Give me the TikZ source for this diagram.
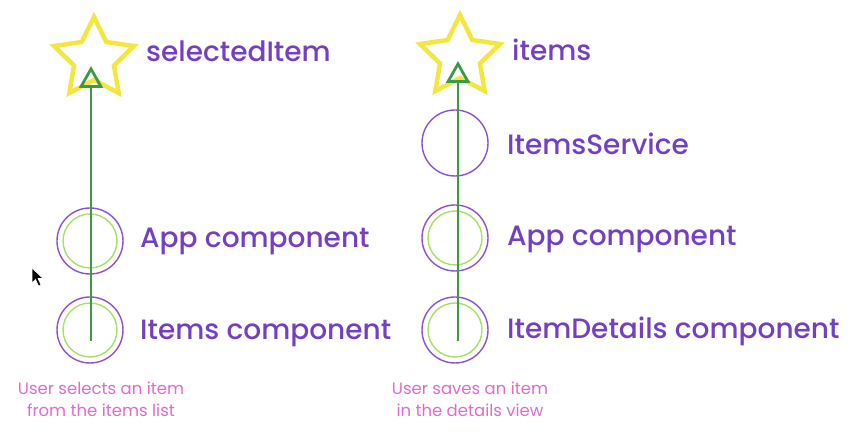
\documentclass[tikz,border=0pt]{standalone}
\usepackage{fontspec}
\setmainfont{Poppins}
\usetikzlibrary{arrows.meta,calc}
\definecolor{txtpurple}{HTML}{7440C2}
\definecolor{ringpurple}{HTML}{8C52D6}
\definecolor{ringgreen}{HTML}{A6E066}
\definecolor{arrgreen}{HTML}{3C9A45}
\definecolor{staryellow}{HTML}{F4E640}
\definecolor{capink}{HTML}{E06ACF}
\tikzset{
  x=1pt,y=1pt,
  starline/.style={draw=staryellow, line width=4.5pt, line join=miter},
  ringouter/.style={circle, draw=ringpurple, line width=1.4pt, minimum size=66pt, inner sep=0pt},
  ringinner/.style={circle, draw=ringgreen, line width=1.4pt, minimum size=54pt, inner sep=0pt},
  lbl/.style={anchor=west, text=txtpurple, font=\fontsize{28}{32}\selectfont\fontspec{Poppins Medium}, inner sep=0pt},
  capt/.style={align=center, text=capink, font=\fontsize{16.5}{22}\selectfont, inner sep=0pt},
  flow/.style={draw=arrgreen, line width=2.8pt, -{Triangle[open, length=22pt, width=24pt, line width=2.8pt]}}
}
% y coordinates given as 436 - pixel row
\newcommand{\starat}[3]{%
  \coordinate (#1) at (#2,#3);
  \draw[starline] ($(#1)+(90:42)$) -- ($(#1)+(126:21)$) -- ($(#1)+(162:42)$) -- ($(#1)+(198:21)$) -- ($(#1)+(234:42)$) -- ($(#1)+(270:21)$) -- ($(#1)+(306:42)$) -- ($(#1)+(342:21)$) -- ($(#1)+(18:42)$) -- ($(#1)+(54:21)$) -- cycle;}
\begin{document}
\begin{tikzpicture}
\useasboundingbox (0,0) rectangle (860,436);
% left column
\starat{starL}{94}{377}
\node[lbl] (tSel) at (146,385) {selectedItem};
\node[ringouter] (appL) at (90,195) {};
\node[ringinner] (appLi) at (90,195) {};
\node[lbl] (tAppL) at (140,195) {App component};
\node[ringouter] (itL) at (90,106) {};
\node[ringinner] (itLi) at (90,106) {};
\node[lbl] (tItL) at (140,103) {Items component};
\coordinate (startL) at (91,95);
\coordinate (tipL) at (91,370);
\draw[flow] (startL) -- (tipL);
\node[capt] (capL) at (101,37) {User selects an item\\from the items list};
% right column
\starat{starR}{460}{379}
\node[lbl] (tItems) at (512,386) {items};
\node[ringouter] (svc) at (455,293) {};
\node[lbl] (tSvc) at (507,292) {ItemsService};
\node[ringouter] (appR) at (455,198) {};
\node[ringinner] (appRi) at (455,198) {};
\node[lbl] (tAppR) at (507,197) {App component};
\node[ringouter] (det) at (455,106) {};
\node[ringinner] (deti) at (455,106) {};
\node[lbl] (tDet) at (507,105) {ItemDetails component};
\coordinate (startR) at (458,95);
\coordinate (tipR) at (458,375);
\draw[flow] (startR) -- (tipR);
\node[capt] (capR) at (470,37) {User saves an item\\in the details view};
% mouse cursor
\draw[fill=black, draw=white, line width=0.6pt] (32,168) -- (32,153) -- (35.5,156.5) -- (38.5,150) -- (41,151) -- (38,157.5) -- (43,157.5) -- cycle;
\end{tikzpicture}
\end{document}
